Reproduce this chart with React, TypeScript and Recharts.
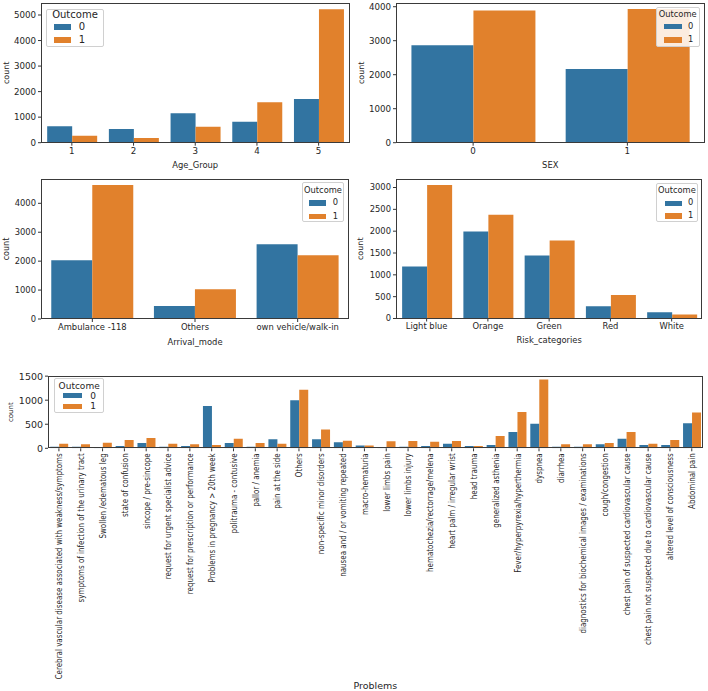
import React from "react";
import { BarChart, Bar, XAxis, YAxis, Legend } from "recharts";

const BLUE = "#3274a1";
const ORANGE = "#e1812c";
const FONT = "'DejaVu Sans', sans-serif";
const TEXT = "#262626";

// Age_Group
const ageGroups = ["1", "2", "3", "4", "5"];
const ageOutcome0 = [640, 535, 1150, 820, 1710];
const ageOutcome1 = [275, 180, 625, 1580, 5230];
const ageTicks = [0, 1000, 2000, 3000, 4000, 5000];

// SEX
const sexCats = ["0", "1"];
const sexOutcome0 = [2865, 2170];
const sexOutcome1 = [3885, 3930];
const sexTicks = [0, 1000, 2000, 3000, 4000];

// Arrival_mode
const arrivalModes = ["Ambulance -118", "Others", "own vehicle/walk-in"];
const arrivalOutcome0 = [2030, 450, 2580];
const arrivalOutcome1 = [4635, 1025, 2200];
const arrivalTicks = [0, 1000, 2000, 3000, 4000];

// Risk_categories
const riskCats = ["Light blue", "Orange", "Green", "Red", "White"];
const riskOutcome0 = [1190, 1990, 1445, 280, 145];
const riskOutcome1 = [3060, 2375, 1785, 540, 90];
const riskTicks = [0, 500, 1000, 1500, 2000, 2500, 3000];

// Problems
const problems = [
  "Cerebral vascular disease associated with weakness/symptoms",
  "symptoms of infection of the urinary tract",
  "Swollen /edematous leg",
  "state of confusion",
  "sincope / pre-sincope",
  "request for urgent specialist advice",
  "request for prescription or performance",
  "Problems in pregnancy > 20th week",
  "politrauma - contusive",
  "pallor / anemia",
  "pain at the side",
  "Others",
  "non-specific minor disorders",
  "nausea and / or vomiting repeated",
  "macro-hematuria",
  "lower limbs pain",
  "lower limbs injury",
  "hematochezia/rectorrage/melena",
  "heart palm / irregular wrist",
  "head trauma",
  "generalized asthenia",
  "Fever/hyperpyrexia/hyperthermia",
  "dyspnea",
  "diarrhea",
  "diagnostics for biochemical images / examinations",
  "cough/congestion",
  "chest pain of suspected cardiovascular cause",
  "chest pain not suspected due to cardiovascular cause",
  "altered level of consciousness",
  "Abdominal pain",
];
const problemOutcome0 = [
  34, 34, 21, 48, 110, 34, 48, 880, 110, 34, 186, 998, 186, 124, 58,
  21, 34, 48, 96, 48, 69, 337, 509, 34, 34, 83, 200, 69, 69, 523,
];
const problemOutcome1 = [
  96, 83, 117, 172, 213, 96, 83, 69, 200, 110, 96, 1218, 392, 155, 58,
  145, 151, 138, 151, 48, 255, 757, 1431, 83, 83, 110, 337, 96, 172, 743,
];
const problemTicks = [0, 500, 1000, 1500];

const YW = 45;
const MT = 4;
const MR = 6;

type LegendSpec = {
  left: number;
  top: number;
  w: number;
  h: number;
  font: number;
  titleCy: number;
  rows: number[];
  swatchX: number;
  swatchW: number;
  swatchH: number;
  labelX: number;
};

const OutcomeLegend = ({ spec }: { spec: LegendSpec }) => (
  <div
    style={{
      position: "relative",
      width: spec.w,
      height: spec.h,
      boxSizing: "border-box",
      border: "1px solid #d0d0d0",
      borderRadius: 2,
      background: "rgba(255,255,255,0.85)",
      fontFamily: FONT,
      fontSize: spec.font,
      color: TEXT,
    }}
  >
    <div
      style={{
        position: "absolute",
        left: 0,
        width: "100%",
        textAlign: "center",
        top: spec.titleCy - spec.font * 0.6,
        lineHeight: `${spec.font * 1.2}px`,
      }}
    >
      Outcome
    </div>
    {["0", "1"].map((lab, i) => (
      <React.Fragment key={lab}>
        <div
          style={{
            position: "absolute",
            left: spec.swatchX,
            top: spec.rows[i] - spec.swatchH / 2,
            width: spec.swatchW,
            height: spec.swatchH,
            background: i === 0 ? BLUE : ORANGE,
          }}
        />
        <div
          style={{
            position: "absolute",
            left: spec.labelX,
            top: spec.rows[i] - spec.font * 0.6,
            lineHeight: `${spec.font * 1.2}px`,
          }}
        >
          {lab}
        </div>
      </React.Fragment>
    ))}
  </div>
);

type PanelProps = {
  cats: string[];
  v0: number[];
  v1: number[];
  ticks: number[];
  yMax: number;
  x0: number;
  y0: number;
  pw: number;
  ph: number;
  xh: number;
  xLabel: string;
  xLabelDy: number;
  xLabelFont: number;
  yLabelX: number;
  yLabelFont: number;
  tickFont: number;
  legend: LegendSpec;
  rotated?: boolean;
};

const RotTick = (props: any) => {
  const { x, y, payload } = props;
  return (
    <g transform={`translate(${x},${y}) rotate(-90) scale(0.79,1)`}>
      <text
        x={0}
        y={0}
        textAnchor="end"
        dominantBaseline="central"
        fontSize={9}
        fontFamily={FONT}
        fill={TEXT}
      >
        {payload.value}
      </text>
    </g>
  );
};

const Panel = (p: PanelProps) => {
  const data = p.cats.map((name, i) => ({ name, o0: p.v0[i], o1: p.v1[i] }));
  const left = p.x0 - YW;
  const top = p.y0 - MT;
  const width = YW + p.pw + MR;
  const height = MT + p.ph + p.xh;
  return (
    <>
      <div style={{ position: "absolute", left, top, width, height }}>
        <BarChart
          width={width}
          height={height}
          data={data}
          margin={{ top: MT, right: MR, left: 0, bottom: 0 }}
          barCategoryGap="10%"
          barGap={0}
        >
          <XAxis
            dataKey="name"
            height={p.xh}
            interval={0}
            axisLine={false}
            tickSize={3}
            tickMargin={2}
            tickLine={{ stroke: "#333" }}
            tick={
              p.rotated
                ? <RotTick />
                : { fontSize: p.tickFont, fill: TEXT, fontFamily: FONT }
            }
            label={{
              value: p.xLabel,
              content: () => (
                <text
                  x={p.x0 - left + p.pw / 2}
                  y={MT + p.ph + p.xLabelDy}
                  textAnchor="middle"
                  dominantBaseline="central"
                  fontSize={p.xLabelFont}
                  fontFamily={FONT}
                  fill={TEXT}
                >
                  {p.xLabel}
                </text>
              ),
            }}
          />
          <YAxis
            width={YW}
            type="number"
            domain={[0, p.yMax]}
            ticks={p.ticks}
            interval={0}
            allowDataOverflow
            axisLine={false}
            tickSize={3}
            tickMargin={2}
            tickLine={{ stroke: "#333" }}
            tick={{ fontSize: p.tickFont, fill: TEXT, fontFamily: FONT }}
            label={{
              value: "count",
              content: () => {
                const cx = p.yLabelX - left;
                const cy = MT + p.ph / 2;
                return (
                  <text
                    x={cx}
                    y={cy}
                    transform={`rotate(-90, ${cx}, ${cy})`}
                    textAnchor="middle"
                    dominantBaseline="central"
                    fontSize={p.yLabelFont}
                    fontFamily={FONT}
                    fill={TEXT}
                  >
                    count
                  </text>
                );
              },
            }}
          />
          <Legend
            layout="horizontal"
            align="center"
            verticalAlign="middle"
            wrapperStyle={{
              left: p.legend.left - left,
              top: p.legend.top - top,
              width: "auto",
              height: "auto",
            }}
            content={() => <OutcomeLegend spec={p.legend} />}
          />
          <Bar dataKey="o0" fill={BLUE} isAnimationActive={false} />
          <Bar dataKey="o1" fill={ORANGE} isAnimationActive={false} />
        </BarChart>
      </div>
      <div
        style={{
          position: "absolute",
          left: p.x0,
          top: p.y0,
          width: p.pw,
          height: p.ph,
          boxSizing: "border-box",
          border: "1px solid #3a3a3a",
          pointerEvents: "none",
        }}
      />
    </>
  );
};

export default function App() {
  return (
    <div
      style={{
        position: "absolute",
        left: 0,
        top: 0,
        width: 708,
        height: 691,
        background: "#fff",
        overflow: "hidden",
        fontFamily: FONT,
      }}
    >
      <Panel
        cats={ageGroups}
        v0={ageOutcome0}
        v1={ageOutcome1}
        ticks={ageTicks}
        yMax={5470}
        x0={41}
        y0={3}
        pw={308.5}
        ph={139.7}
        xh={30}
        xLabel="Age_Group"
        xLabelDy={22.3}
        xLabelFont={8.4}
        yLabelX={6.5}
        yLabelFont={8}
        tickFont={8.7}
        legend={{
          left: 45.7, top: 8.7, w: 58.6, h: 38.3, font: 10, titleCy: 5.3,
          rows: [17.3, 30.3], swatchX: 7.3, swatchW: 17, swatchH: 5.5, labelX: 32,
        }}
      />
      <Panel
        cats={sexCats}
        v0={sexOutcome0}
        v1={sexOutcome1}
        ticks={sexTicks}
        yMax={4109}
        x0={396}
        y0={3}
        pw={308.5}
        ph={139.7}
        xh={30}
        xLabel="SEX"
        xLabelDy={22.3}
        xLabelFont={8.4}
        yLabelX={361}
        yLabelFont={8}
        tickFont={8.7}
        legend={{
          left: 655.7, top: 7, w: 44, h: 40, font: 8.3, titleCy: 7,
          rows: [18.7, 32], swatchX: 7.3, swatchW: 17.7, swatchH: 5.5, labelX: 31.3,
        }}
      />
      <Panel
        cats={arrivalModes}
        v0={arrivalOutcome0}
        v1={arrivalOutcome1}
        ticks={arrivalTicks}
        yMax={4840}
        x0={41}
        y0={178.5}
        pw={308}
        ph={140}
        xh={30}
        xLabel="Arrival_mode"
        xLabelDy={22.5}
        xLabelFont={8.4}
        yLabelX={6}
        yLabelFont={8}
        tickFont={8.4}
        legend={{
          left: 302, top: 182.3, w: 42, h: 40, font: 8.3, titleCy: 7.7,
          rows: [19.7, 33.4], swatchX: 6, swatchW: 17, swatchH: 5.5, labelX: 29.7,
        }}
      />
      <Panel
        cats={riskCats}
        v0={riskOutcome0}
        v1={riskOutcome1}
        ticks={riskTicks}
        yMax={3195}
        x0={396}
        y0={179}
        pw={306.3}
        ph={139.5}
        xh={30}
        xLabel="Risk_categories"
        xLabelDy={22}
        xLabelFont={8.4}
        yLabelX={361}
        yLabelFont={8}
        tickFont={8.4}
        legend={{
          left: 655.7, top: 183.3, w: 42.3, h: 39, font: 8.3, titleCy: 6.7,
          rows: [19, 31.7], swatchX: 8.3, swatchW: 16.7, swatchH: 5.5, labelX: 31.3,
        }}
      />
      <Panel
        cats={problems}
        v0={problemOutcome0}
        v1={problemOutcome1}
        ticks={problemTicks}
        yMax={1503}
        x0={48}
        y0={376}
        pw={654.7}
        ph={72.3}
        xh={245}
        xLabel="Problems"
        xLabelDy={237.7}
        xLabelFont={9.5}
        yLabelX={11}
        yLabelFont={7}
        tickFont={9.5}
        rotated
        legend={{
          left: 54, top: 378.3, w: 50.3, h: 35, font: 9, titleCy: 6.7,
          rows: [16.7, 27.4], swatchX: 7.7, swatchW: 19.3, swatchH: 5, labelX: 35.3,
        }}
      />
    </div>
  );
}
